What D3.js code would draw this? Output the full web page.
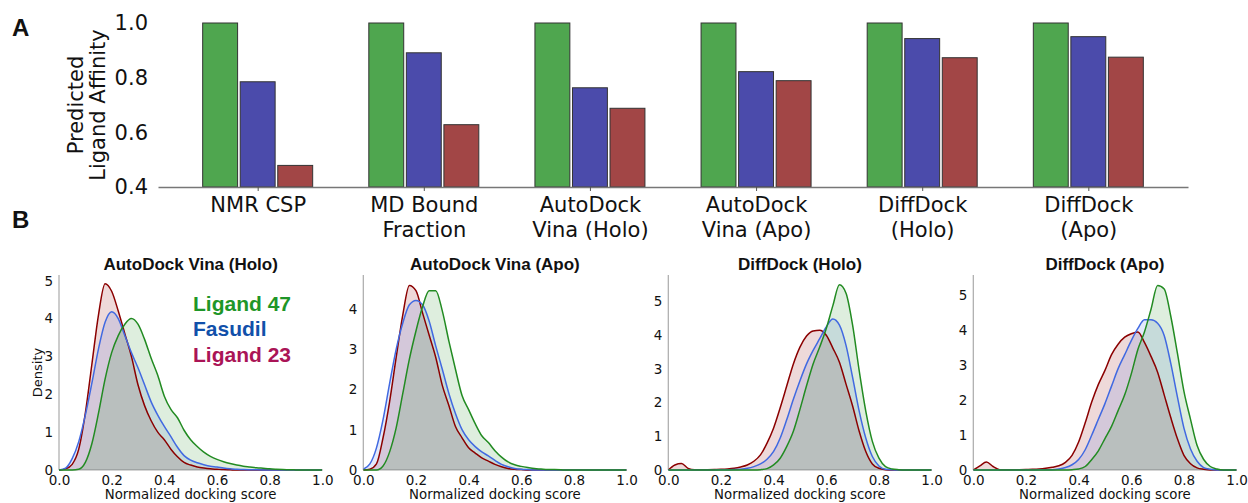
<!DOCTYPE html>
<html lang="en">
<head>
<meta charset="utf-8">
<script src="https://d3js.org/d3.v7.min.js"></script>
<title>Predicted ligand affinity and docking score densities</title>
<style>
  body { margin: 0; background: #fff; }
  text { font-family: "DejaVu Sans", sans-serif; fill: #111; }
  .bold { font-family: "Liberation Sans", Arial, sans-serif; font-weight: bold; }
</style>
</head>
<body>
<script>
// ---- panel A: predicted affinity per method ----
const methods = ["NMR CSP", "MD Bound|Fraction", "AutoDock|Vina (Holo)", "AutoDock|Vina (Apo)", "DiffDock|(Holo)", "DiffDock|(Apo)"];
const ligands = ["Ligand 47", "Fasudil", "Ligand 23"];
const affinity47      = [1.0, 1.0, 1.0, 1.0, 1.0, 1.0];
const affinityFasudil = [0.785, 0.891, 0.763, 0.822, 0.943, 0.950];
const affinity23      = [0.479, 0.628, 0.688, 0.789, 0.873, 0.875];
const affinityTicks = [0.4, 0.6, 0.8, 1.0];

// ---- panel B: docking score densities ----
const dockTitles = ["AutoDock Vina (Holo)", "AutoDock Vina (Apo)", "DiffDock (Holo)", "DiffDock (Apo)"];
const scoreGrid = [0, 0.025, 0.05, 0.075, 0.1, 0.125, 0.15, 0.175, 0.2, 0.225,
                   0.25, 0.275, 0.3, 0.325, 0.35, 0.375, 0.4, 0.425, 0.45, 0.475,
                   0.5, 0.525, 0.55, 0.575, 0.6, 0.625, 0.65, 0.675, 0.7, 0.725,
                   0.75, 0.775, 0.8, 0.825, 0.85, 0.875, 0.9, 0.925, 0.95, 0.975, 1.0];

const vinaHolo47 = [0, 0, 0, 0.02, 0.2, 0.7, 1.5, 2.4, 3.1, 3.55,
                    3.85, 4.0, 3.85, 3.45, 2.95, 2.5, 1.95, 1.6, 1.38, 1.05,
                    0.8, 0.62, 0.47, 0.36, 0.28, 0.22, 0.17, 0.13, 0.1, 0.08,
                    0.06, 0.045, 0.03, 0.02, 0.012, 0.006, 0.003, 0, 0, 0, 0];
const vinaHoloFasudil = [0, 0.05, 0.3, 0.75, 1.45, 2.3, 3.2, 3.9, 4.18, 4.0,
                         3.55, 3.1, 2.7, 2.25, 1.8, 1.45, 1.15, 0.88, 0.6, 0.38,
                         0.26, 0.19, 0.14, 0.1, 0.08, 0.05, 0.03, 0.02, 0.012, 0.008,
                         0.005, 0.003, 0, 0, 0, 0, 0, 0, 0, 0, 0];
const vinaHolo23 = [0, 0.03, 0.15, 0.55, 1.5, 2.8, 4.1, 4.92, 4.72, 4.2,
                    3.6, 3.0, 2.25, 1.7, 1.3, 1.0, 0.8, 0.55, 0.35, 0.2,
                    0.13, 0.08, 0.05, 0.03, 0.02, 0.01, 0.005, 0, 0, 0,
                    0, 0, 0, 0, 0, 0, 0, 0, 0, 0, 0];

const vinaApo47 = [0, 0, 0, 0.1, 0.45, 1.05, 1.9, 2.75, 3.45, 4.05,
                   4.45, 4.45, 3.95, 3.2, 2.5, 1.85, 1.5, 1.15, 0.85, 0.68,
                   0.48, 0.32, 0.2, 0.13, 0.09, 0.06, 0.035, 0.025, 0.015, 0.01,
                   0.005, 0, 0, 0, 0, 0, 0, 0, 0, 0, 0];
const vinaApoFasudil = [0.02, 0.15, 0.55, 1.25, 2.15, 3.0, 3.65, 4.1, 4.21, 4.1,
                        3.7, 3.08, 2.5, 1.9, 1.4, 1.0, 0.75, 0.58, 0.45, 0.35,
                        0.24, 0.14, 0.08, 0.04, 0.02, 0.01, 0, 0, 0, 0,
                        0, 0, 0, 0, 0, 0, 0, 0, 0, 0, 0];
const vinaApo23 = [0, 0.02, 0.15, 0.8, 1.7, 2.8, 3.85, 4.58, 4.45, 3.9,
                   3.35, 2.8, 2.1, 1.6, 1.08, 0.8, 0.55, 0.42, 0.3, 0.22,
                   0.14, 0.08, 0.04, 0.02, 0.01, 0, 0, 0, 0, 0,
                   0, 0, 0, 0, 0, 0, 0, 0, 0, 0, 0];

const diffHolo47 = [0, 0, 0, 0, 0, 0, 0, 0, 0, 0,
                    0, 0, 0, 0, 0.01, 0.04, 0.15, 0.35, 0.7, 1.15,
                    1.8, 2.5, 3.15, 3.65, 4.2, 4.88, 5.5, 5.25, 4.3, 2.95,
                    1.75, 0.85, 0.35, 0.1, 0.03, 0.01, 0, 0, 0, 0, 0];
const diffHoloFasudil = [0, 0, 0, 0, 0, 0, 0, 0.002, 0.005, 0.008,
                         0.012, 0.025, 0.05, 0.1, 0.18, 0.32, 0.55, 0.95, 1.5, 2.1,
                         2.65, 3.15, 3.55, 3.9, 4.25, 4.48, 4.3, 3.7, 2.75, 1.75,
                         0.95, 0.4, 0.12, 0.02, 0.005, 0, 0, 0, 0, 0, 0];
const diffHolo23 = [0, 0.15, 0.19, 0.05, 0.005, 0.005, 0.01, 0.015, 0.02, 0.03,
                    0.05, 0.09, 0.15, 0.26, 0.45, 0.8, 1.25, 1.85, 2.5, 3.15,
                    3.65, 3.98, 4.13, 4.15, 4.0, 3.62, 3.2, 2.55, 1.9, 1.15,
                    0.55, 0.18, 0.05, 0.01, 0, 0, 0, 0, 0, 0, 0];

const diffApo47 = [0, 0, 0, 0, 0, 0, 0, 0, 0, 0,
                   0, 0, 0, 0, 0, 0.01, 0.03, 0.1, 0.3, 0.55,
                   0.9, 1.25, 1.7, 2.15, 2.75, 3.45, 3.95, 4.6, 5.28, 5.18,
                   4.4, 3.35, 2.25, 1.45, 0.7, 0.3, 0.1, 0.03, 0, 0, 0];
const diffApoFasudil = [0, 0, 0, 0, 0, 0, 0, 0, 0, 0,
                        0.005, 0.008, 0.01, 0.03, 0.07, 0.15, 0.3, 0.58, 1.0, 1.45,
                        1.9, 2.4, 2.9, 3.3, 3.7, 4.05, 4.3, 4.3, 4.2, 3.85,
                        3.05, 2.1, 1.2, 0.6, 0.25, 0.07, 0.02, 0, 0, 0, 0];
const diffApo23 = [0, 0.12, 0.23, 0.1, 0.01, 0.005, 0.005, 0.01, 0.015, 0.02,
                   0.03, 0.05, 0.08, 0.12, 0.22, 0.42, 0.8, 1.35, 1.95, 2.45,
                   2.85, 3.3, 3.6, 3.8, 3.9, 3.95, 3.65, 3.25, 2.8, 2.15,
                   1.5, 0.9, 0.42, 0.18, 0.06, 0.02, 0, 0, 0, 0, 0];

const densityYMax = [5.15, 4.84, 5.79, 5.58];
const densityTicks = [[0, 1, 2, 3, 4, 5], [0, 1, 2, 3, 4], [0, 1, 2, 3, 4, 5], [0, 1, 2, 3, 4, 5]];
const scoreTicks = [0, 0.2, 0.4, 0.6, 0.8, 1.0];

// colours
var barColor  = {"Ligand 47": "#4fa64f", "Fasudil": "#4b4bab", "Ligand 23": "#a24646"};
var lineColor = {"Ligand 47": "#228b22", "Fasudil": "#4169e1", "Ligand 23": "#8b0000"};
var textColor = {"Ligand 47": "#1e9628", "Fasudil": "#1150aa", "Ligand 23": "#aa1456"};

var svg = d3.select("body").append("svg")
    .attr("width", 1248)
    .attr("height", 503);

// ================= panel A =================
var gA = svg.append("g");

var xA = d3.scalePoint().domain(methods).range([158, 1188]).padding(0.6);
var xSub = d3.scaleBand().domain(ligands).range([-55, 55]).paddingInner(0.07);
var yA = d3.scaleLinear().domain([0.4, 1.0]).range([187, 23]);

var barRows = methods.map(function(m, i) {
  return {method: m, values: [
    {ligand: "Ligand 47", value: affinity47[i]},
    {ligand: "Fasudil", value: affinityFasudil[i]},
    {ligand: "Ligand 23", value: affinity23[i]}
  ]};
});

var groups = gA.selectAll(".grp")
  .data(barRows)
  .enter().append("g")
    .attr("class", "grp")
    .attr("transform", function(d) { return "translate(" + xA(d.method) + ",0)"; });

groups.selectAll("rect")
  .data(function(d) { return d.values; })
  .enter().append("rect")
    .attr("x", function(d) { return xSub(d.ligand); })
    .attr("y", function(d) { return yA(d.value); })
    .attr("width", xSub.bandwidth())
    .attr("height", function(d) { return yA(0.4) - yA(d.value); })
    .attr("fill", function(d) { return barColor[d.ligand]; })
    .attr("stroke", "#333")
    .attr("stroke-width", 1);

// bottom axis
var axA = gA.append("g")
  .attr("transform", "translate(0," + yA(0.4) + ")")
  .call(d3.axisBottom(xA).tickSize(4).tickSizeOuter(0).tickFormat(""));
axA.select(".domain").attr("stroke", "#777").attr("stroke-width", 1.5);
axA.selectAll(".tick line").attr("stroke", "#555");

// category labels on two lines
axA.selectAll(".tick").each(function(d) {
  var t = d3.select(this).append("text")
    .attr("text-anchor", "middle")
    .style("font-size", "21px")
    .style("fill", "#111");
  d.split("|").forEach(function(line, k) {
    t.append("tspan").attr("x", 0).attr("y", 25 + k * 25).text(line);
  });
});

// left tick labels, no spine
var ayA = gA.append("g")
  .attr("transform", "translate(158,0)")
  .call(d3.axisLeft(yA).tickValues(affinityTicks).tickSize(0).tickPadding(10).tickFormat(d3.format(".1f")));
ayA.select(".domain").remove();
ayA.selectAll("text").style("font-size", "21px").style("font-family", "DejaVu Sans").attr("fill", "#111");

var yLab = gA.append("text")
  .attr("transform", "translate(86,105) rotate(-90)")
  .attr("text-anchor", "middle")
  .style("font-size", "21px");
yLab.append("tspan").attr("x", 0).attr("y", -3).text("Predicted");
yLab.append("tspan").attr("x", 0).attr("y", 19).text("Ligand Affinity");

svg.append("text").attr("class", "bold").attr("x", 12).attr("y", 36)
  .style("font-size", "24px").text("A");
svg.append("text").attr("class", "bold").attr("x", 12).attr("y", 228)
  .style("font-size", "24px").text("B");

// ================= panel B =================
var densitySets = [
  {"Ligand 47": vinaHolo47, "Fasudil": vinaHoloFasudil, "Ligand 23": vinaHolo23},
  {"Ligand 47": vinaApo47,  "Fasudil": vinaApoFasudil,  "Ligand 23": vinaApo23},
  {"Ligand 47": diffHolo47, "Fasudil": diffHoloFasudil, "Ligand 23": diffHolo23},
  {"Ligand 47": diffApo47,  "Fasudil": diffApoFasudil,  "Ligand 23": diffApo23}
];
var drawOrder = ["Ligand 23", "Fasudil", "Ligand 47"];

var panelLeft = [59, 363.3, 668.3, 973.3];
var pw = 263.3, pTop = 275, pBottom = 470;

dockTitles.forEach(function(title, i) {
  var g = svg.append("g").attr("transform", "translate(" + panelLeft[i] + ",0)");

  var x = d3.scaleLinear().domain([0, 1]).range([0, pw]);
  var y = d3.scaleLinear().domain([0, densityYMax[i]]).range([pBottom, pTop]);

  g.append("clipPath").attr("id", "clip" + i)
    .append("rect").attr("x", 0).attr("y", pTop).attr("width", pw).attr("height", pBottom - pTop + 1);

  // spines
  g.append("line").attr("x1", 0).attr("x2", 0).attr("y1", pTop).attr("y2", pBottom)
    .attr("stroke", "#aaa").attr("stroke-width", 1.2);
  g.append("line").attr("x1", 0).attr("x2", pw).attr("y1", pBottom).attr("y2", pBottom)
    .attr("stroke", "#aaa").attr("stroke-width", 1.2);

  var area = d3.area()
    .x(function(d) { return x(d[0]); })
    .y0(y(0))
    .y1(function(d) { return y(d[1]); })
    .curve(d3.curveMonotoneX);
  var line = d3.line()
    .x(function(d) { return x(d[0]); })
    .y(function(d) { return y(d[1]); })
    .curve(d3.curveMonotoneX);

  var plot = g.append("g").attr("clip-path", "url(#clip" + i + ")");
  var series = drawOrder.map(function(lig) {
    return {ligand: lig, pts: scoreGrid.map(function(s, k) { return [s, densitySets[i][lig][k]]; })};
  });

  plot.selectAll(".fill").data(series).enter().append("path")
    .attr("d", function(d) { return area(d.pts); })
    .attr("fill", function(d) { return lineColor[d.ligand]; })
    .attr("fill-opacity", 0.15);
  plot.selectAll(".ln").data(series).enter().append("path")
    .attr("d", function(d) { return line(d.pts); })
    .attr("fill", "none")
    .attr("stroke", function(d) { return lineColor[d.ligand]; })
    .attr("stroke-width", 1.5);

  var ax = g.append("g").attr("transform", "translate(0," + pBottom + ")")
    .call(d3.axisBottom(x).tickValues(scoreTicks).tickSize(0).tickPadding(5.5).tickFormat(d3.format(".1f")));
  ax.select(".domain").remove();
  ax.selectAll("text").style("font-size", "13.5px").attr("fill", "#111");

  var ay = g.append("g")
    .call(d3.axisLeft(y).tickValues(densityTicks[i]).tickSize(0).tickPadding(6).tickFormat(d3.format("d")));
  ay.select(".domain").remove();
  ay.selectAll("text").style("font-size", "13.5px").attr("fill", "#111");

  g.append("text").attr("class", "bold")
    .attr("x", pw / 2).attr("y", 270)
    .attr("text-anchor", "middle")
    .style("font-size", "17px")
    .text(title);

  g.append("text")
    .attr("x", pw / 2).attr("y", 499)
    .attr("text-anchor", "middle")
    .style("font-size", "13.3px")
    .text("Normalized docking score");

  if (i === 0) {
    g.append("text")
      .attr("transform", "translate(-17," + ((pTop + pBottom) / 2) + ") rotate(-90)")
      .attr("text-anchor", "middle")
      .style("font-size", "13px")
      .text("Density");

    ligands.forEach(function(lig, k) {
      g.append("text").attr("class", "bold")
        .attr("x", 134).attr("y", 311 + k * 25.3)
        .style("font-size", "21px")
        .style("fill", textColor[lig])
        .text(lig);
    });
  }
});
</script>
</body>
</html>
